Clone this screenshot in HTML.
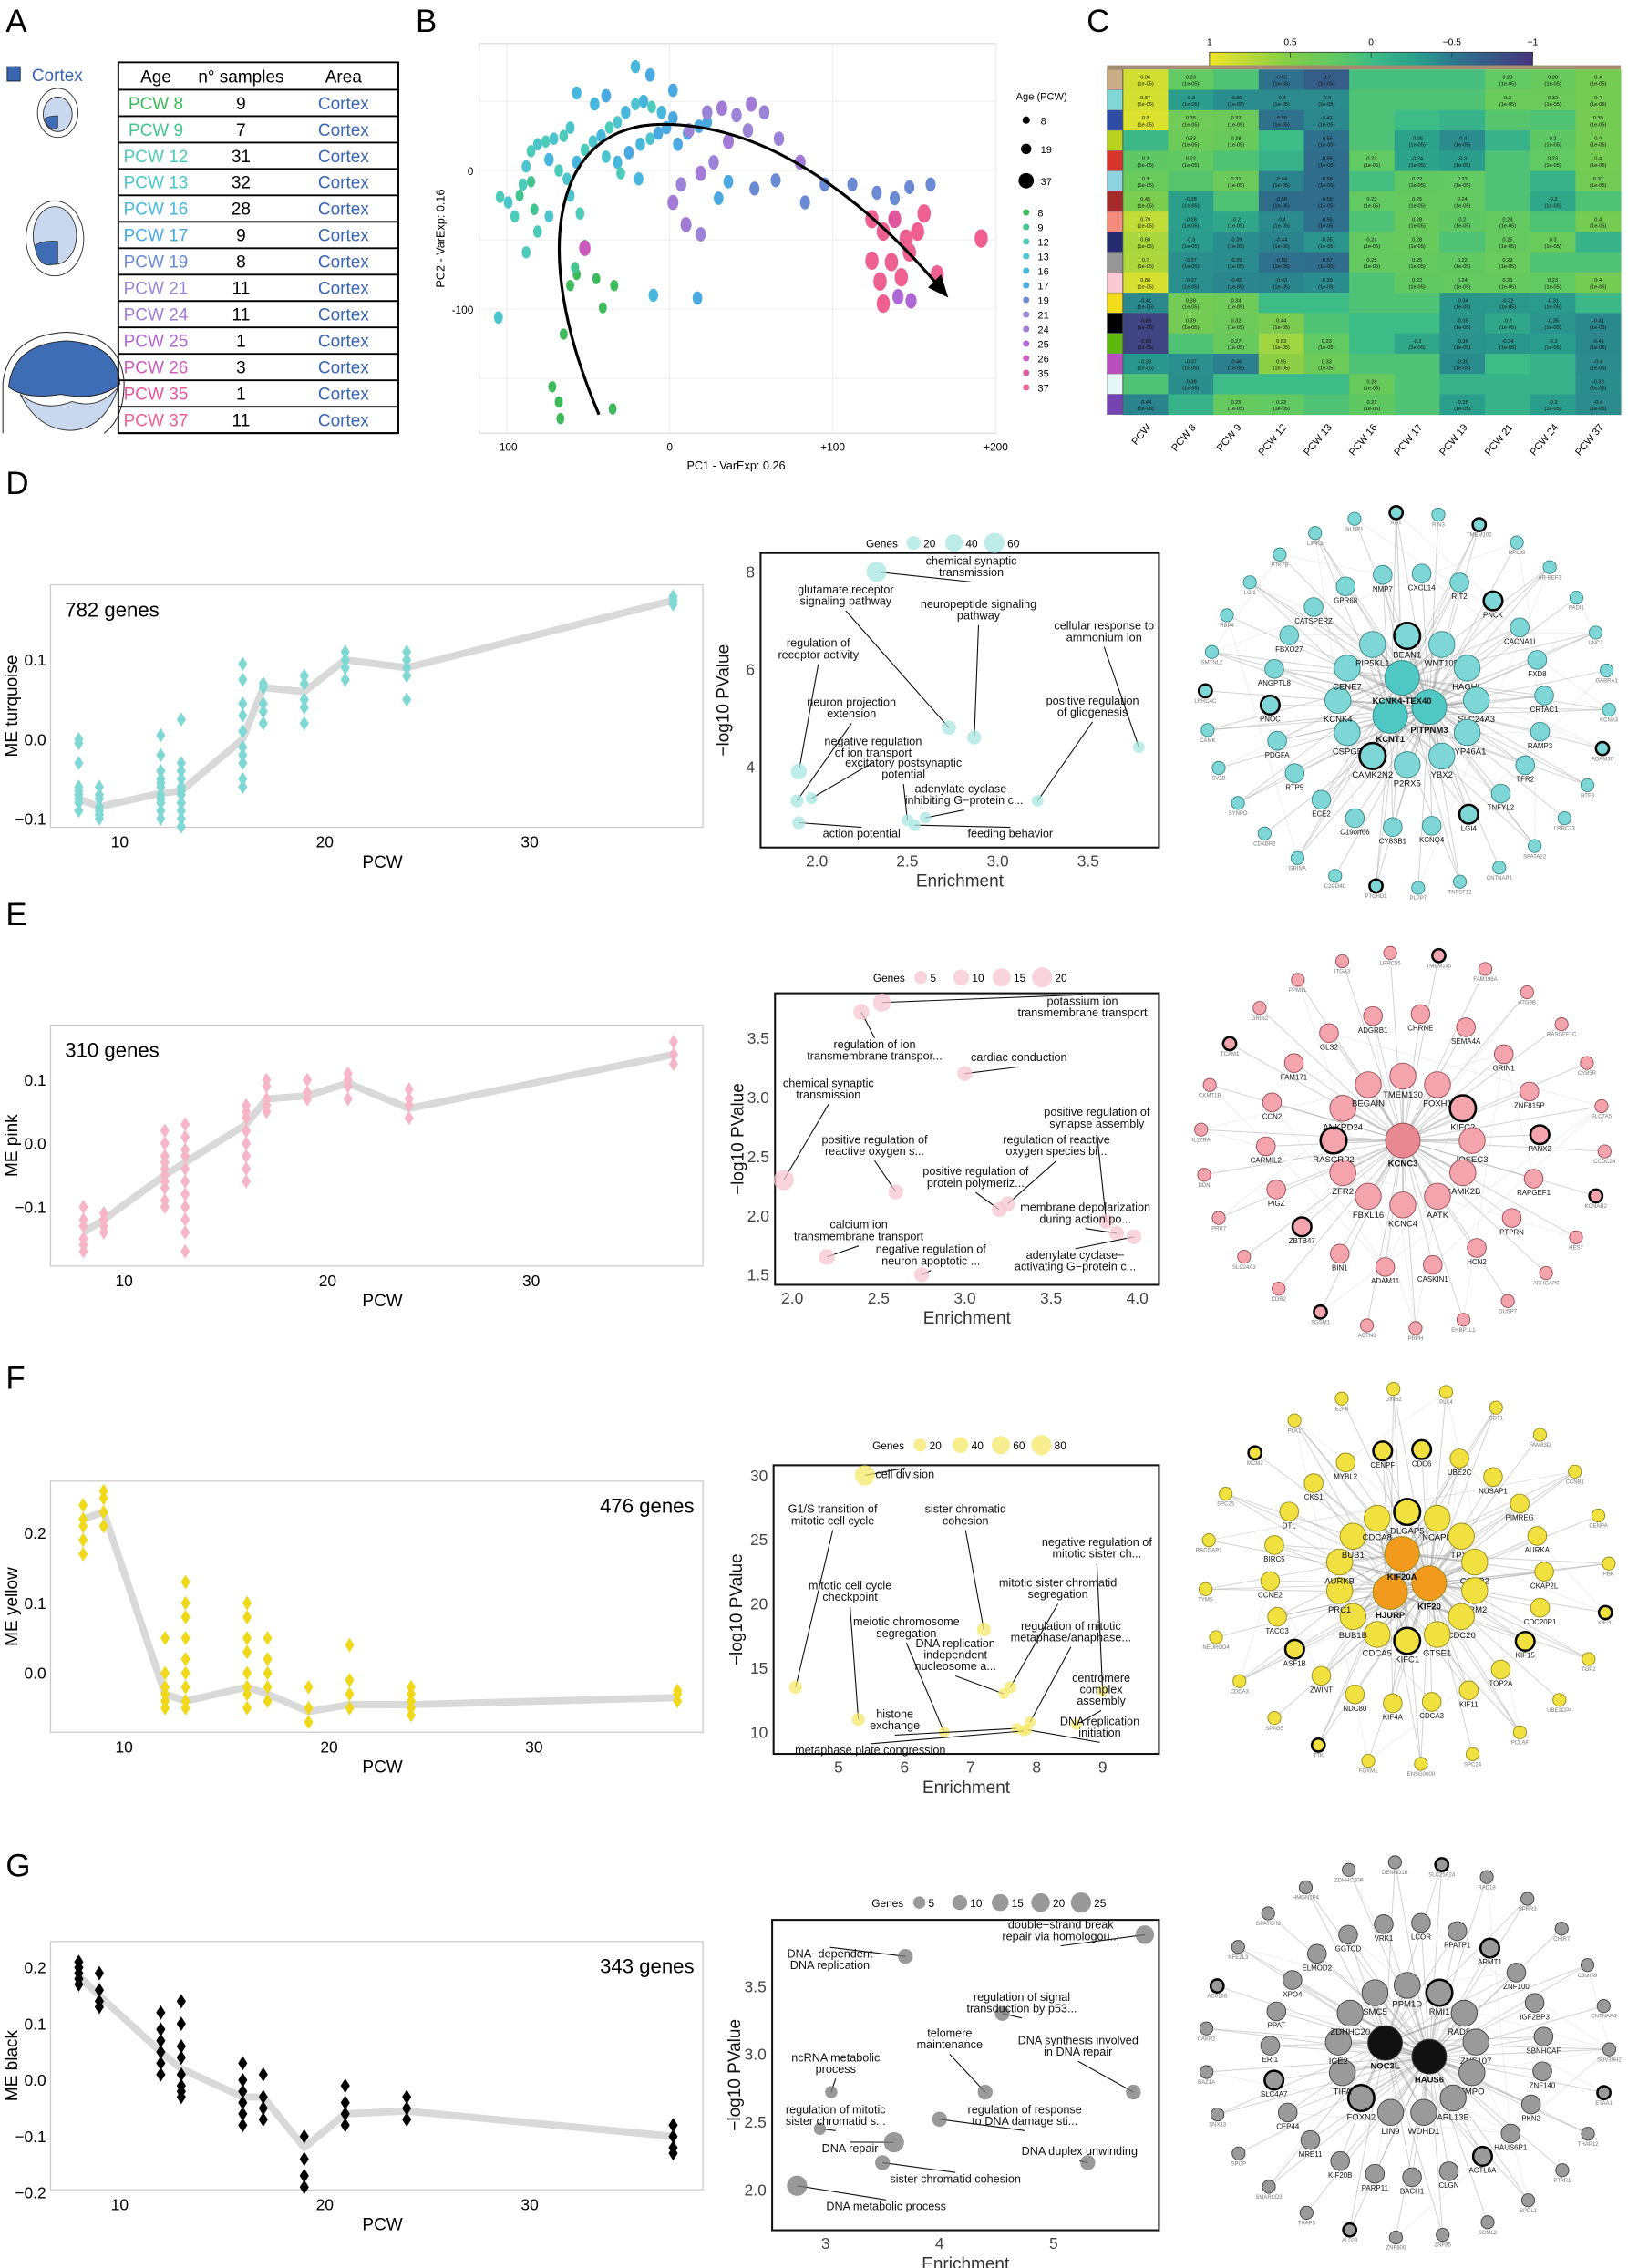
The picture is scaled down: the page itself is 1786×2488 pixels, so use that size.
<!DOCTYPE html>
<html><head><meta charset="utf-8"><style>
html,body{margin:0;padding:0;background:#fff;}
svg{display:block;font-family:"Liberation Sans",sans-serif;}
</style></head><body>
<svg id="fig" xmlns="http://www.w3.org/2000/svg" width="1786" height="2488" viewBox="0 0 1128 1571">
<rect x="0" y="0" width="1128" height="1571" fill="#fff"/>
<!-- Panel A -->
<g>
<text x="4" y="22" font-size="22">A</text>
<rect x="5" y="46" width="9" height="10" fill="#3a66b0" stroke="#123" stroke-width="0.6"/>
<text x="22" y="56" font-size="12" fill="#3a66b0">Cortex</text>
<g>
<ellipse cx="40" cy="78" rx="14" ry="17" fill="none" stroke="#333" stroke-width="0.6"/>
<ellipse cx="40" cy="79" rx="10" ry="12" fill="#c9d8ef" stroke="#333" stroke-width="0.6"/>
<path d="M31,82 Q34,92 40,88 L40,80 Q34,80 31,82Z" fill="#3f6db5" stroke="#333" stroke-width="0.5"/>
</g>
<g>
<ellipse cx="38" cy="165" rx="20" ry="26" fill="none" stroke="#333" stroke-width="0.6"/>
<ellipse cx="38" cy="163" rx="15" ry="20" fill="#c9d8ef" stroke="#333" stroke-width="0.6"/>
<path d="M24,170 Q27,188 40,182 L40,167 Q30,166 24,170Z" fill="#3f6db5" stroke="#333" stroke-width="0.5"/>
</g>
<g>
<path d="M2,300 L2,265 Q6,232 46,230 Q84,232 86,265 Q86,290 72,300" fill="none" stroke="#333" stroke-width="0.7"/>
<path d="M6,268 Q9,238 46,236 Q82,238 83,266 Q68,278 42,273 Q18,277 6,268Z" fill="#3f6db5" stroke="#222" stroke-width="0.6"/>
<path d="M14,273 Q30,286 50,278 Q68,284 82,268 Q72,298 48,298 Q26,297 14,273Z" fill="#c9d8ef" stroke="#333" stroke-width="0.6"/>
</g>
<g id="tableA"></g>
</g>
<!-- Panel B -->
<g id="panelB">
<text x="288" y="22" font-size="22">B</text>
</g>
<g id="panelC">
<text x="753" y="22" font-size="22">C</text>
</g>
<text x="4" y="342" font-size="22">D</text>
<text x="4" y="641" font-size="22">E</text>
<text x="4" y="962" font-size="22">F</text>
<text x="4" y="1300" font-size="22">G</text>
</svg>
<script>
const NS='http://www.w3.org/2000/svg';
const svg=document.getElementById('fig');
function mk(tag,attrs,parent,text){const e=document.createElementNS(NS,tag);for(const k in attrs)e.setAttribute(k,attrs[k]);if(text!==undefined)e.textContent=text;(parent||svg).appendChild(e);return e;}
function grp(name,parent){const g=mk('g',{},parent);return g;}
function lin(v0,v1,p0,p1){return v=>p0+(v-v0)/(v1-v0)*(p1-p0);}

/* ---------- Panel A data ---------- */
const tableAges=['PCW 8','PCW 9','PCW 12','PCW 13','PCW 16','PCW 17','PCW 19','PCW 21','PCW 24','PCW 25','PCW 26','PCW 35','PCW 37'];
const tableN=[9,7,31,32,28,9,8,11,11,1,3,1,11];
const ageColors=['#3dbb5a','#44c48f','#4ccaba','#4cc5cf','#48b7de','#4aa9e0','#6a8bd3','#9b84d8','#a37bd7','#b067d6','#cc5bbd','#e0579f','#ee6090'];
(function(){
 const g=document.getElementById('tableA');
 const x0=82,x1=276,yH=43,yR=62,rh=18.3;
 let t=mk('text',{x:108,y:57,'font-size':12,'text-anchor':'middle'},g,'Age');
 t=mk('text',{x:167,y:57,'font-size':12,'text-anchor':'middle'},g,'n° samples');
 t=mk('text',{x:238,y:57,'font-size':12,'text-anchor':'middle'},g,'Area');
 mk('rect',{x:x0,y:yH,width:x1-x0,height:yR-yH+tableAges.length*rh,fill:'none',stroke:'#000','stroke-width':1.2},g);
 for(let i=0;i<=tableAges.length;i++){mk('line',{x1:x0,x2:x1,y1:yR+i*rh,y2:yR+i*rh,stroke:'#000','stroke-width':1.2},g);}
 tableAges.forEach((a,i)=>{
  const y=yR+i*rh+13.5;
  const r=grp('table-row-'+a.replace(' ','-').toLowerCase(),g);
  let c=mk('text',{x:108,y:y,'font-size':12,'text-anchor':'middle',fill:ageColors[i]},r,a);
  c=mk('text',{x:167,y:y,'font-size':12,'text-anchor':'middle'},r,String(tableN[i]));
  c=mk('text',{x:238,y:y,'font-size':12,'text-anchor':'middle',fill:'#3a66b0'},r,'Cortex');
 });
})();

/* ---------- Panel B data ---------- */
const pcaAges=[8,9,12,13,16,17,19,21,24,25,26,35,37];
const pc1=[-52,-57,-61,-45,-34,-41,-65,-72,-68,-35,-67, -58,-92,-83,-85,
 -104,-99,-95,-90,-88,-85,-81,-76,-71,-65,-61,-74,-68,-63,-57,-52,-47,-42,-37,-32,-27,-21,-16,-11,-5,-39,-32,-25,-18,-12,-7,-30,-19,-2,2,-61,-55,-74,-81,-105,-88,
 -46,-39,-57,5,11,18,23,-21,-12,2,-10,17,36,30,
 52,65,83,95,112,127,138,147,160,
 12,23,32,41,50,58,36,27,19,7,2,19,10,67,80,48,
 -52,140,148,
 124,131,138,145,152,156,147,136,124,129,142,164,191,131];
const pc2=[-54,-75,-83,-78,-83,-99,-118,-156,-167,-172,-179, -70,-18,-28,-8,
 -19,-23,-33,-10,3,14,19,21,23,25,31,8,0,-6,6,15,21,25,31,35,42,48,50,46,42,10,6,13,19,23,27,-2,-6,31,38,-18,-31,-33,-44,-106,-59,
 48,54,56,19,27,32,35,75,69,58,-90,-92,-8,-20,
 -13,-7,-23,-10,-10,-16,-20,-12,-10,
 29,42,45,40,48,42,21,6,-2,-10,-23,-46,-39,23,6,29,
 -56,-91,-94,
 -35,-44,-35,-49,-44,-31,-59,-66,-65,-80,-77,-75,-49,-96];
const pcAge=[8,8,8,8,8,8,8,8,8,8,8, 9,9,9,9,
 12,13,12,12,13,12,13,12,13,12,13,16,12,13,16,12,13,16,12,13,16,13,16,12,16,13,16,17,16,13,17,12,16,17,17,13,12,13,12,13,12,
 16,17,16,17,17,17,17,16,17,17,16,17,17,17,
 19,19,19,19,19,19,19,19,19,
 21,21,24,21,24,21,24,21,24,21,24,21,24,21,24,21,
 26,25,25,
 37,37,35,37,37,37,37,37,37,37,37,37,37,37];
(function(){
 const g=document.getElementById('panelB');
 const sx=lin(-100,200,351,690), sy=lin(0,-100,118,214);
 mk('rect',{x:332,y:30,width:358,height:270,fill:'#fff',stroke:'#ddd','stroke-width':0.8},g);
 [-100,0,100,200].forEach(v=>{mk('line',{x1:sx(v),x2:sx(v),y1:30,y2:300,stroke:'#f0f0f0','stroke-width':0.8},g);});
 [-150,-100,-50,0,50].forEach(v=>{mk('line',{x1:332,x2:690,y1:sy(v),y2:sy(v),stroke:'#f0f0f0','stroke-width':0.8},g);});
 ['-100','0','+100','+200'].forEach((l,i)=>{const v=[-100,0,100,200][i];const t=mk('text',{x:sx(v),y:312,'font-size':7.5,'text-anchor':'middle'},g,l);});
 [[0,'0'],[-100,'-100']].forEach(d=>{const t=mk('text',{x:328,y:sy(d[0])+3,'font-size':7.5,'text-anchor':'end'},g,d[1]);});
 let t=mk('text',{x:510,y:325,'font-size':8,'text-anchor':'middle'},g,'PC1 - VarExp: 0.26');
 t=mk('text',{x:308,y:165,'font-size':8,'text-anchor':'middle',transform:'rotate(-90 308 165)'},g,'PC2 - VarExp: 0.16');
 pc1.forEach((v,i)=>{
  const ai=pcaAges.indexOf(pcAge[i]);
  const r=3.2+pcAge[i]/37*3.2;
  const c=mk('ellipse',{cx:sx(v),cy:sy(pc2[i]),rx:r*0.72,ry:r,fill:ageColors[ai]},g);
  
  
 });
 const ar=mk('path',{d:'M415,287 C365,170 385,85 460,86 C540,86 610,150 652,200',fill:'none',stroke:'#000','stroke-width':2},g);
 
 mk('path',{d:'M657,206 L643,199 L652,190 Z',fill:'#000'},g);
 t=mk('text',{x:704,y:69,'font-size':7},g,'Age (PCW)');
 [[8,83],[19,103],[37,125]].forEach(d=>{const c=mk('circle',{cx:711,cy:d[1],r:1.8+d[0]/37*3.5,fill:'#000'},g);mk('text',{x:721,y:d[1]+3,'font-size':7},g,String(d[0]));});
 pcaAges.forEach((a,i)=>{const y=147+i*10.1;const c=mk('circle',{cx:711,cy:y,r:2.2,fill:ageColors[i]},g);mk('text',{x:719,y:y+2.8,'font-size':7},g,String(a));});
})();

/* ---------- Panel C data ---------- */
const hmCols=['PCW','PCW 8','PCW 9','PCW 12','PCW 13','PCW 16','PCW 17','PCW 19','PCW 21','PCW 24','PCW 37'];
const hmModules=['#c9ad83','#7fd8d4','#2e4ea5','#b8d21e','#d8342b','#8ed3e0','#a52a2a','#f58c7c','#262a6e','#969696','#f9c9d3','#f2dc1b','#000000','#5eb80f','#b94fbd','#e6f6f8','#7444b0'];
const hmValues=[
[0.86,0.23,0.1,-0.55,-0.7,0.05,0.05,0.05,0.23,0.28,0.4],
[0.87,-0.3,-0.39,-0.4,-0.4,0.1,0.1,0.1,0.3,0.32,0.4],
[0.9,0.35,0.32,-0.55,-0.41,0.1,0,-0.1,0.15,0.1,0.39],
[-0.05,0.33,0.28,0,-0.56,0.1,-0.25,-0.4,-0.1,0.2,0.4],
[0.2,0.22,0.1,-0.1,-0.58,0.23,-0.24,-0.3,0.1,0.23,0.4],
[0.3,0.15,0.31,-0.44,-0.58,0.05,0.22,0.23,0.1,-0.1,0.37],
[0.45,-0.28,0.1,-0.58,-0.59,0.23,0.25,0.24,0.1,-0.2,0.1],
[0.79,-0.28,-0.2,-0.4,-0.56,0.1,0.28,0.2,0.24,0.1,0.4],
[0.68,-0.3,-0.39,-0.44,-0.35,0.24,0.28,0.1,0.25,0.3,-0.1],
[0.7,-0.37,-0.39,-0.55,-0.57,0.25,0.25,0.22,0.29,0.1,0.1],
[0.88,-0.37,-0.42,-0.43,-0.39,0.1,0.22,0.24,0.25,0.23,0.4],
[-0.41,0.38,0.34,0,0,0.1,0.1,-0.34,-0.32,-0.31,-0.05],
[-0.88,0.39,0.32,0.44,0.1,0,0,-0.35,-0.2,-0.35,-0.41],
[-0.88,0.1,0.27,0.63,0.23,0,-0.2,-0.36,-0.34,-0.3,-0.41],
[-0.33,-0.37,-0.46,0.55,0.33,0.1,0.1,-0.39,0,-0.1,-0.4],
[0.1,-0.38,0,0,0,0.28,0.1,-0.1,-0.1,-0.1,-0.38],
[-0.44,-0.1,0.25,0.23,0.1,0.21,0.1,-0.28,-0.1,-0.3,-0.4]];
const cbTicks=[1,0.5,0,-0.5,-1];
const cbStops=[[1,[240,230,40]],[0.5,[130,205,75]],[0.2,[95,200,100]],[0,[62,188,135]],[-0.3,[42,157,140]],[-0.5,[44,120,142]],[-1,[70,52,126]]];
function cmap(v){for(let i=0;i<cbStops.length-1;i++){const a=cbStops[i],b=cbStops[i+1];if(v<=a[0]&&v>=b[0]){const t=(a[0]-v)/(a[0]-b[0]);const c=a[1].map((x,k)=>Math.round(x+(b[1][k]-x)*t));return 'rgb('+c.join(',')+')';}}return v>1?'rgb(240,230,40)':'rgb(70,52,126)';}
(function(){
 const g=document.getElementById('panelC');
 const x0=778,y0=48,cw=345/hmCols.length,rh=239/hmModules.length;
 const cbx=lin(1,-1,838,1062);
 const grad=mk('defs',{},g);const lg=mk('linearGradient',{id:'cbg',x1:0,x2:1,y1:0,y2:0},grad);
 for(let i=0;i<=20;i++){const v=1-i/10;mk('stop',{offset:(i/20),'stop-color':cmap(v)},lg);}
 const cb=mk('rect',{x:838,y:36,width:224,height:11,fill:'url(#cbg)',stroke:'#333','stroke-width':0.5},g);
 cbTicks.forEach(v=>{const t=mk('text',{x:cbx(v),y:31,'font-size':6.5,'text-anchor':'middle'},g,String(v).replace('-','−'));mk('line',{x1:cbx(v),x2:cbx(v),y1:36,y2:40,stroke:'#333','stroke-width':0.5},g);});
 mk('rect',{x:767,y:y0-3,width:356,height:3,fill:'#a08f70'},g);
 hmModules.forEach((m,r)=>{
  const s=mk('rect',{x:767,y:y0+r*rh,width:11,height:rh,fill:m,stroke:'#888','stroke-width':0.3},g);
  
  hmValues[r].forEach((v,c)=>{
   const cell=mk('rect',{x:x0+c*cw,y:y0+r*rh,width:cw+0.3,height:rh+0.3,fill:cmap(v)},g);
   
   
   if(Math.abs(v)>=0.2){mk('text',{x:x0+c*cw+cw/2,y:y0+r*rh+rh/2-0.5,'font-size':3.6,'text-anchor':'middle',fill:'#111'},g,String(v));mk('text',{x:x0+c*cw+cw/2,y:y0+r*rh+rh/2+4,'font-size':3.6,'text-anchor':'middle',fill:'#111'},g,'(1e-05)');}
  });
 });
 mk('line',{x1:778,x2:778,y1:y0,y2:y0+239,stroke:'#555','stroke-width':0.6},g);
 hmCols.forEach((c,i)=>{const x=x0+i*cw+cw/2+4;const t=mk('text',{x:x,y:296,'font-size':7,'text-anchor':'end',transform:'rotate(-50 '+x+' 296)'},g,c);});
})();

/* ---------- Module eigengene line plots ---------- */
const pcwAges=[8,9,12,13,16,17,19,21,24,37];
const turqVals=[[-0.07,-0.065,-0.08,-0.09,-0.06,-0.03,0.0,-0.005,-0.075],[-0.06,-0.075,-0.09,-0.1,-0.095,-0.085,-0.07],[-0.02,-0.04,-0.05,-0.055,-0.06,-0.07,-0.075,-0.08,-0.09,-0.1,0.005],[0.025,-0.03,-0.04,-0.05,-0.06,-0.065,-0.07,-0.08,-0.09,-0.1,-0.11],[0.095,0.075,0.045,0.03,0.01,-0.01,-0.02,-0.03,-0.05,-0.06],[0.07,0.065,0.045,0.035,0.02],[0.08,0.07,0.05,0.04,0.02],[0.11,0.1,0.09,0.075],[0.11,0.1,0.09,0.08,0.05],[0.18,0.175,0.17]];
const turqMeans=[-0.075,-0.085,-0.068,-0.065,0.0,0.065,0.06,0.1,0.09,0.175];
const pinkVals=[[-0.1,-0.12,-0.13,-0.15,-0.16,-0.17],[-0.11,-0.12,-0.13,-0.14],[0.02,0,-0.02,-0.03,-0.04,-0.05,-0.06,-0.07,-0.09,-0.1],[0.03,0.01,-0.01,-0.02,-0.04,-0.06,-0.08,-0.1,-0.12,-0.14,-0.17],[0.06,0.05,0.04,0.02,0,-0.02,-0.04,-0.06],[0.1,0.09,0.07,0.06,0.05],[0.1,0.08,0.07],[0.11,0.1,0.09,0.07],[0.085,0.07,0.06,0.04],[0.16,0.14,0.125]];
const pinkMeans=[-0.14,-0.12,-0.05,-0.03,0.03,0.07,0.075,0.095,0.055,0.14];
const yellowVals=[[0.24,0.22,0.21,0.19,0.17],[0.26,0.25,0.23,0.21],[0.05,0,-0.02,-0.03,-0.04,-0.05],[0.13,0.1,0.08,0.05,0.02,0,-0.02,-0.04,-0.05],[0.1,0.08,0.05,0.03,0,-0.02,-0.03,-0.05],[0.05,0.02,0,-0.02,-0.04],[-0.02,-0.05,-0.07],[0.04,-0.01,-0.03,-0.05],[-0.02,-0.03,-0.04,-0.05,-0.06],[-0.025,-0.03,-0.04]];
const yellowMeans=[0.22,0.23,-0.03,-0.04,-0.02,-0.03,-0.055,-0.045,-0.045,-0.035];
const blackVals=[[0.21,0.2,0.19,0.18,0.17],[0.19,0.16,0.14,0.13],[0.12,0.09,0.07,0.05,0.03,0.01],[0.14,0.1,0.06,0.04,0.01,-0.01,-0.02,-0.03],[0.03,0,-0.02,-0.04,-0.06,-0.08],[0.01,-0.03,-0.05,-0.07],[-0.1,-0.14,-0.17,-0.19],[-0.01,-0.04,-0.06,-0.08],[-0.03,-0.05,-0.07],[-0.08,-0.1,-0.12,-0.13]];
const blackMeans=[0.185,0.15,0.05,0.02,-0.03,-0.03,-0.12,-0.06,-0.055,-0.1];
const mePlotTicksX=[10,20,30];

function linePlot(name,box,sx,sy,yTicks,yTickLabels,vals,means,color,ylabel,genesText,genesRight){
 const g=grp(name);
 const fr=mk('rect',{x:box[0],y:box[1],width:box[2]-box[0],height:box[3]-box[1],fill:'#fff',stroke:'#ccc','stroke-width':0.8},g);
 
 const pts=means.map((m,i)=>sx(pcwAges[i])+','+sy(m)).join(' ');
 const ln=mk('polyline',{points:pts,fill:'none',stroke:'#d9d9d9','stroke-width':5,'stroke-linejoin':'round'},g);
 
 vals.forEach((arr,i)=>arr.forEach(v=>{
  const x=sx(pcwAges[i]),y=sy(v);
  const d=mk('polygon',{points:(x)+','+(y-5)+' '+(x+3.2)+','+y+' '+x+','+(y+5)+' '+(x-3.2)+','+y,fill:color},g);
  
  
 }));
 yTicks.forEach((v,i)=>{const t=mk('text',{x:box[0]-3,y:sy(v)+4,'font-size':11,'text-anchor':'end'},g,yTickLabels[i]);});
 mePlotTicksX.forEach(v=>{const t=mk('text',{x:sx(v),y:box[3]+14,'font-size':11,'text-anchor':'middle'},g,String(v));});
 let t=mk('text',{x:265,y:box[3]+28,'font-size':12,'text-anchor':'middle'},g,'PCW');
 const cy=(box[1]+box[3])/2;
 t=mk('text',{x:12,y:cy,'font-size':12,'text-anchor':'middle',transform:'rotate(-90 12 '+cy+')'},g,ylabel);
 t=mk('text',{x:genesRight?box[2]-6:box[0]+10,y:box[1]+22,'font-size':14,'text-anchor':genesRight?'end':'start'},g,genesText);
}
linePlot('me-turquoise-plot',[35,405,487,573],lin(10,30,83,367),lin(0.1,-0.1,457,567),[-0.1,0,0.1],['−0.1','0.0','0.1'],turqVals,turqMeans,'#7fd8d4','ME turquoise','782 genes',false);
linePlot('me-pink-plot',[35,710,487,877],lin(10,30,86,368),lin(0.1,-0.1,748,836),[-0.1,0,0.1],['−0.1','0.0','0.1'],pinkVals,pinkMeans,'#f7b6c6','ME pink','310 genes',false);
linePlot('me-yellow-plot',[35,1026,487,1200],lin(10,30,86,370),lin(0.2,0,1062,1159),[0,0.1,0.2],['0.0','0.1','0.2'],yellowVals,yellowMeans,'#f0d81a','ME yellow','476 genes',true);
linePlot('me-black-plot',[35,1345,487,1517],lin(10,30,83,367),lin(0.2,-0.2,1363,1519),[-0.2,-0.1,0,0.1,0.2],['−0.2','−0.1','0.0','0.1','0.2'],blackVals,blackMeans,'#000','ME black','343 genes',true);

/* ---------- Enrichment plots ---------- */
const dTerms=['chemical synaptic|transmission','glutamate receptor|signaling pathway','neuropeptide signaling|pathway','cellular response to|ammonium ion','regulation of|receptor activity','neuron projection|extension','positive regulation|of gliogenesis','negative regulation|of ion transport','excitatory postsynaptic|potential','adenylate cyclase−|inhibiting G−protein c...','action potential','feeding behavior'];
const dEnrich=[2.33,2.73,2.87,3.78,1.9,1.89,3.22,1.97,2.5,2.6,1.9,2.54];
const dLogP=[8.0,4.8,4.6,4.4,3.9,3.3,3.3,3.35,2.9,2.95,2.85,2.8];
const dGenes=[60,20,20,10,30,15,10,10,10,10,15,10];
const dLabelX=[673,586,678,765,567,590,757,605,626,668,597,700];
const dLabelY=[395,415,425,440,452,493,492,520,535,553,580,580];

const eTerms=['potassium ion|transmembrane transport','regulation of ion|transmembrane transpor...','cardiac conduction','chemical synaptic|transmission','positive regulation of|synapse assembly','regulation of reactive|oxygen species bi...','positive regulation of|reactive oxygen s...','positive regulation of|protein polymeriz...','membrane depolarization|during action po...','calcium ion|transmembrane transport','negative regulation of|neuron apoptotic ...','adenylate cyclase−|activating G−protein c...'];
const eEnrich=[2.52,2.4,3.0,1.95,3.82,3.25,2.6,3.2,3.88,2.2,2.75,3.98];
const eLogP=[3.8,3.72,3.2,2.3,1.95,2.1,2.2,2.05,1.85,1.65,1.5,1.82];
const eGenes=[15,10,8,20,8,8,8,8,8,10,8,8];
const eLabelX=[750,606,706,574,760,732,606,676,752,595,645,745];
const eLabelY=[700,730,735,757,777,796,796,818,843,855,872,876];

const fTerms=['cell division','G1/S transition of|mitotic cell cycle','sister chromatid|cohesion','negative regulation of|mitotic sister ch...','mitotic sister chromatid|segregation','mitotic cell cycle|checkpoint','meiotic chromosome|segregation','regulation of mitotic|metaphase/anaphase...','DNA replication|independent|nucleosome a...','centromere|complex|assembly','histone|exchange','DNA replication|initiation','metaphase plate congression'];
const fEnrich=[5.4,4.35,7.2,9.0,7.6,5.3,6.6,7.9,7.5,8.6,7.7,7.85,7.8];
const fLogP=[30,13.5,18,13.2,13.5,11,10,10.8,13,10.6,10.3,10.2,10.1];
const fGenes=[80,20,25,10,15,20,10,10,10,10,10,10,10];
const fLabelX=[627,577,669,760,733,589,628,742,662,763,620,762,603];
const fLabelY=[1024,1052,1052,1075,1103,1105,1130,1133,1149,1173,1194,1199,1215];

const gTerms=['double−strand break|repair via homologou...','DNA−dependent|DNA replication','regulation of signal|transduction by p53...','telomere|maintenance','DNA synthesis involved|in DNA repair','ncRNA metabolic|process','regulation of mitotic|sister chromatid s...','regulation of response|to DNA damage sti...','DNA repair','DNA duplex unwinding','sister chromatid cohesion','DNA metabolic process'];
const gEnrich=[5.8,3.7,4.55,4.4,5.7,3.05,2.95,4.0,3.6,5.3,3.5,2.75];
const gLogP=[3.88,3.72,3.3,2.72,2.72,2.72,2.45,2.52,2.35,2.2,2.2,2.03];
const gGenes=[20,10,10,10,10,5,5,10,25,10,10,25];
const gLabelX=[735,575,708,658,747,579,579,710,589,748,662,614];
const gLabelY=[1340,1360,1390,1415,1420,1432,1468,1468,1491,1493,1512,1531];

function enrichPlot(name,box,sx,sy,xTicks,yTicks,terms,enr,lp,genes,lx,ly,fill,legendVals,legendY,maxG){
 const g=grp(name);
 const fr=mk('rect',{x:box[0],y:box[1],width:box[2]-box[0],height:box[3]-box[1],fill:'#fff',stroke:'#111','stroke-width':1.3},g);
 
 const rs=v=>2+Math.sqrt(v/maxG)*5;
 terms.forEach((tm,i)=>{
  const px=sx(enr[i]),py=sy(lp[i]);
  const lines=tm.split('|');
  const ly0=ly[i]-(lines.length-1)*4;
  mk('line',{x1:px,y1:py,x2:lx[i],y2:ly0+(py>ly0?4:-7)+(py>ly0?(lines.length-1)*8:0),stroke:'#111','stroke-width':0.7},g);
  const c=mk('circle',{cx:px,cy:py,r:rs(genes[i]),fill:fill,'fill-opacity':0.75},g);
  
  
  const t=mk('text',{x:lx[i],y:ly0,'font-size':8,'text-anchor':'middle',fill:'#111'},g);
  
  lines.forEach((l,k)=>{mk('tspan',{x:lx[i],dy:k?8:0},t,l);});
 });
 const xDec=xTicks.some(z=>!Number.isInteger(z));
 xTicks.forEach(v=>{const t=mk('text',{x:sx(v),y:box[3]+13,'font-size':11,'text-anchor':'middle',fill:'#444'},g,xDec?v.toFixed(1):String(v));});
 yTicks.forEach(v=>{const t=mk('text',{x:box[0]-4,y:sy(v)+4,'font-size':11,'text-anchor':'end',fill:'#444'},g,(yTicks.some(z=>!Number.isInteger(z))?v.toFixed(1):String(v)));});
 const cx=(box[0]+box[2])/2,cy=(box[1]+box[3])/2;
 let t=mk('text',{x:cx,y:box[3]+27,'font-size':12,'text-anchor':'middle',fill:'#333'},g,'Enrichment');
 t=mk('text',{x:box[0]-22,y:cy,'font-size':12,'text-anchor':'middle',fill:'#111',transform:'rotate(-90 '+(box[0]-22)+' '+cy+')'},g,'−log10 PValue');
 const lgx=cx-40;
 t=mk('text',{x:lgx-14,y:legendY+3,'font-size':7.5,'text-anchor':'middle'},g,'Genes');
 legendVals.forEach((v,i)=>{const x=lgx+8+i*28;const c=mk('circle',{cx:x,cy:legendY,r:rs(v),fill:fill,'fill-opacity':0.75},g);mk('text',{x:x+rs(v)+2,y:legendY+3,'font-size':7.5},g,String(v));});
}
enrichPlot('enrichment-turquoise',[527,383,803,587],lin(2,3.5,566,754),lin(8,4,396,531),[2.0,2.5,3.0,3.5],[4,6,8],dTerms,dEnrich,dLogP,dGenes,dLabelX,dLabelY,'#a8e6e2',[20,40,60],376,60);
enrichPlot('enrichment-pink',[537,688,803,890],lin(2,4,549,788),lin(3.5,1.5,719,883),[2.0,2.5,3.0,3.5,4.0],[1.5,2.0,2.5,3.0,3.5],eTerms,eEnrich,eLogP,eGenes,eLabelX,eLabelY,'#f8c6d0',[5,10,15,20],677,20);
enrichPlot('enrichment-yellow',[536,1015,803,1215],lin(5,9,581,764),lin(30,10,1022,1200),[5,6,7,8,9],[10,15,20,25,30],fTerms,fEnrich,fLogP,fGenes,fLabelX,fLabelY,'#f5e86a',[20,40,60,80],1001,80);
enrichPlot('enrichment-black',[535,1330,803,1545],lin(3,5,572,730),lin(3.5,2.0,1376,1517),[3,4,5],[2.0,2.5,3.0,3.5],gTerms,gEnrich,gLogP,gGenes,gLabelX,gLabelY,'#777',[5,10,15,20,25],1318,25);

/* ---------- Networks ---------- */
const netDHubs=['PITPNM3','KCNT1','KCNK4-TEX40'];
const netDRing1=['BEAN1','WNT10B','HAGHL','SLC24A3','CYP46A1','YBX2','P2RX5','CAMK2N2','CSPG5','KCNK4','CENE7','PIP5KL1'];
const netDRing2=['CXCL14','RIT2','PNCK','CACNA1I','FXD8','CRTAC1','RAMP3','TFR2','TNFYL2','LGI4','KCNQ4','CY8SB1','C19orf66','ECE2','RTP5','PDGFA','PNOC','ANGPTL8','FBXO27','CATSPERZ','GPR68','NMP7'];
const netDRing3=['RIN3','TMEM102','RPL39','AR-BEF3','PADI1','UNC2','GABRA1','KCNA3','ADAM30','NTF3','LRRC73','SPATA22','CNTNAP1','TNFSF12','PLPP7','PTCHD1','C2CD4C','GRINA','CDKBR2','SYNPO','SV2B','CAMK','LRRC4C','SMTNL2','RBP4','LGI1','PTK7B','LIMK2','NLNP1','AGT'];
const netEHubs=['KCNC3'];
const netERing1=['TMEM130','FOXH1','KIFC2','IQSEC3','CAMK2B','AATK','KCNC4','FBXL16','ZFR2','RASGRP2','ANKRD24','BEGAIN'];
const netERing2=['CHRNE','SEMA4A','GRIN1','ZNF815P','PANX2','RAPGEF1','PTPRN','HCN2','CASKIN1','ADAM11','BIN1','ZBTB47','PIGZ','CARMIL2','CCN2','FAM171','GLS2','ADGRB1'];
const netERing3=['TMEM145','FAM198A','ATG9B','RASGEF1C','CYB5R','SLC7A5','CCDC24','KCNAB2','HES7','ARHGAP8','DUSP7','EHBP1L1','PRPH','ACTN3','SGSM1','CDR2','SLC24A3','PRR7','DDN','IL27RA','CKMT1B','TCAM1','GRIN2','PPM1L','ITGA3','LRRC55'];
const netFHubs=['KIF20','HJURP','KIF20A'];
const netFRing1=['DLGAP5','NCAPH','TPX2','CCNB2','RRM2','CDC20','GTSE1','KIFC1','CDCA5','BUB1B','PRC1','AURKB','BUB1','CDCA8'];
const netFRing2=['CDC6','UBE2C','NUSAP1','PIMREG','AURKA','CKAP2L','CDC20P1','KIF15','TOP2A','KIF11','CDCA3','KIF4A','NDC80','ZWINT','ASF1B','TACC3','CCNE2','BIRC5','DTL','CKS1','MYBL2','CENPF'];
const netFRing3=['PLK4','CDT1','FAM83D','CCNB1','CENPA','PBK','KIF2L','TOP2','UBE2CP4','PCLAF','SPC24','ENSG0000','FOXM1','TTK','SPAG5','CDCA3','NEUROD4','TYMS','RACGAP1','SPC25','MCM2','PLK1','E2F8','GINS2'];
const netGHubs=['HAUS6','NOC3L'];
const netGRing1=['PPM1D','RMI1','RAD54B','ZNF107','TMPO','ARL13B','WDHD1','LIN9','FOXN2','TIFA','ICE2','ZDHHC20','SMC5'];
const netGRing2=['LCOR','PPATP1','ARMT1','ZNF100','IGF2BP3','SBNHCAF','ZNF140','PKN2','HAUS6P1','ACTL6A','CLGN','BACH1','PARP11','KIF20B','MRE11','CEP44','SLC4A7','ERI1','PPAT','XPO4','ELMOD2','GGTCD','VRK1'];
const netGRing3=['SLC25A24','RAD18','SPRR3','CHIR7','C3orf49','CNTNAP4','SUV39H2','ETAA1','THAP12','PTAR1','SPDL1','SCML2','ZNF85','ZNF800','AL023','THAP5','SMARCD3','SPOP','SNX13','BAZ1A','CAKP2','AC0168','NFE2L3','GPATCH2','HMGN1P4','ZDHHC20P','DENND1B'];

function network(name,cx,cy,hubs,r1,r2,r3,fill,stroke,hubFill){
 const g=grp(name);
 const eg=grp('network-edges',g);
 const nodes=[];
 hubs.forEach((h,i)=>{const a=i*2*Math.PI/Math.max(hubs.length,1);const d=hubs.length>1?16:0;nodes.push({n:h,x:cx+d*Math.cos(a+0.3),y:cy+d*Math.sin(a+0.3),r:12,f:hubFill,fs:6,bold:true});});
 [[r1,48,9,6,fill],[r2,95,6.5,5,fill],[r3,140,4.5,3.8,fill]].forEach((ring,ri)=>{
  const arr=ring[0];
  arr.forEach((n,i)=>{const a=-Math.PI/2+(i+ri*0.37)*2*Math.PI/arr.length;nodes.push({n:n,x:cx+ring[1]*Math.cos(a),y:cy+ring[1]*0.93*Math.sin(a),r:ring[2],f:ring[4],fs:ring[3],ring:ri});});
 });
 nodes.forEach((nd,i)=>{if(i<hubs.length)return;hubs.forEach((h,k)=>{if(k>0&&i%2)return;mk('line',{x1:nodes[k].x,y1:nodes[k].y,x2:nd.x,y2:nd.y,stroke:'#9a9a9a','stroke-opacity':0.45,'stroke-width':nd.ring===0?1.4:0.6},eg);});if(i%3===0){const j=hubs.length+((i*7)%(nodes.length-hubs.length));mk('line',{x1:nd.x,y1:nd.y,x2:nodes[j].x,y2:nodes[j].y,stroke:'#bbb','stroke-opacity':0.35,'stroke-width':0.4},eg);}});
 nodes.forEach((nd,i)=>{
  const c=mk('circle',{cx:nd.x,cy:nd.y,r:nd.r,fill:nd.f,stroke:(i%7===3)?'#000':stroke,'stroke-width':(i%7===3)?1.6:0.6},g);
  
  
  const t=mk('text',{x:nd.x,y:nd.y+nd.r+nd.fs,'font-size':nd.fs,'text-anchor':'middle',fill:nd.ring===2?'#777':'#111','font-weight':nd.bold?'bold':'normal'},g,nd.n);
  
  
 });
}
network('network-turquoise',975,485,netDHubs,netDRing1,netDRing2,netDRing3,'#7fd6d6','#3a8a8a','#4fc8c4');
network('network-pink',972,790,netEHubs,netERing1,netERing2,netERing3,'#f3a4ad','#9b4e55','#e88890');
network('network-yellow',975,1092,netFHubs,netFRing1,netFRing2,netFRing3,'#f0e040','#9c8c1c','#f29a1e');
network('network-black',975,1420,netGHubs,netGRing1,netGRing2,netGRing3,'#9a9a9a','#444','#111');
</script>
</body></html>
